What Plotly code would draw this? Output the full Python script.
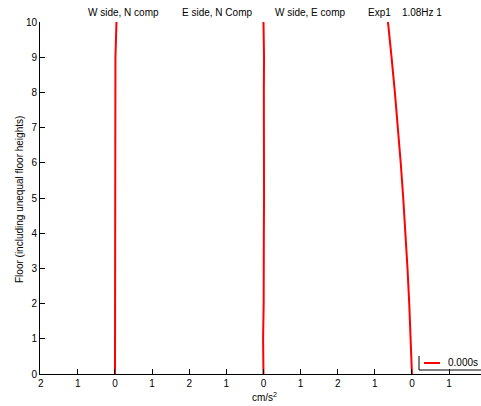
import plotly.graph_objects as go

# ---- data ----
floors = [0, 1, 2, 3, 4, 5, 6, 7, 8, 9, 10]
w_side_n_comp = [0.0, 0.0, 0.005, 0.01, 0.005, 0.0, 0.0, 0.01, 0.01, 0.012, 0.04]
e_side_n_comp = [0.0, -0.01, 0.005, 0.0, 0.01, 0.015, 0.01, 0.015, 0.01, 0.015, 0.0]
w_side_e_comp = [0.0, -0.033, -0.073, -0.12, -0.174, -0.235, -0.303, -0.378, -0.46, -0.55, -0.646]
panel_offsets = [2, 6, 10]
panel_titles = ["W side, N comp", "E side, N Comp", "W side, E comp", "Exp1    1.08Hz 1"]
x_tickvals = list(range(12))
x_ticktext = ["2", "1", "0", "1", "2", "1", "0", "1", "2", "1", "0", "1"]
y_tickvals = list(range(11))
legend_label = "0.000s"

W, H = 481, 406
ML, MR, MT, MB = 40, 0, 22, 32
PW, PH = W - ML - MR, H - MT - MB


def px(x):
    return (x - ML) / PW


def py(y):
    return (H - MB - y) / PH


FONT = "Liberation Sans, Arial, sans-serif"

fig = go.Figure()
for vals, off in zip([w_side_n_comp, e_side_n_comp, w_side_e_comp], panel_offsets):
    fig.add_trace(go.Scatter(
        x=[off + v for v in vals], y=floors, mode="lines",
        line=dict(color="#ff0000", width=2), name=legend_label, showlegend=False,
        hoverinfo="skip"))

annotations = []
title_x = [123, 217, 310, 405]
for t, tx in zip(panel_titles, title_x):
    annotations.append(dict(text=t, x=px(tx), y=py(12), xref="paper", yref="paper",
                            showarrow=False, xanchor="center", yanchor="middle",
                            font=dict(family=FONT, size=10, color="black")))
annotations.append(dict(text="cm/s<sup>2</sup>", x=px(264), y=py(397), xref="paper", yref="paper",
                        showarrow=False, xanchor="center", yanchor="middle",
                        font=dict(family=FONT, size=10, color="black")))
annotations.append(dict(text="Floor (including unequal floor heights)", x=px(20), y=py(200),
                        xref="paper", yref="paper", textangle=-90,
                        showarrow=False, xanchor="center", yanchor="middle",
                        font=dict(family=FONT, size=10, color="black")))
annotations.append(dict(text=legend_label, x=px(446), y=py(362), xref="paper", yref="paper",
                        showarrow=False, xanchor="left", yanchor="middle",
                        font=dict(family=FONT, size=10, color="black")))

shapes = [
    dict(type="line", xref="paper", yref="paper", x0=px(419), x1=px(419), y0=py(356), y1=py(370),
         line=dict(color="black", width=1)),
    dict(type="line", xref="paper", yref="paper", x0=px(419), x1=px(481), y0=py(370), y1=py(370),
         line=dict(color="black", width=1)),
    dict(type="line", xref="paper", yref="paper", x0=px(424), x1=px(440), y0=py(363), y1=py(363),
         line=dict(color="#ff0000", width=2)),
]

fig.update_layout(
    width=W, height=H,
    margin=dict(l=ML, r=MR, t=MT, b=MB, pad=0),
    paper_bgcolor="white", plot_bgcolor="white",
    showlegend=False,
    font=dict(family=FONT, size=10, color="black"),
    annotations=annotations, shapes=shapes,
    xaxis=dict(range=[-0.02, 11.86], tickvals=x_tickvals, ticktext=x_ticktext,
               ticks="inside", ticklen=5, tickcolor="black", showgrid=False, zeroline=False,
               showline=True, linecolor="black", linewidth=1, mirror=False,
               tickfont=dict(family=FONT, size=10, color="black")),
    yaxis=dict(range=[0, 10], tickvals=y_tickvals,
               ticks="inside", ticklen=5, tickcolor="black", showgrid=False, zeroline=False,
               showline=True, linecolor="black", linewidth=1, mirror=False,
               tickfont=dict(family=FONT, size=10, color="black")),
)

fig.write_html(
    "out.html",
    config={"displayModeBar": False},
    post_script="document.body.style.margin='0';document.body.style.padding='0';document.body.style.overflow='hidden';",
)
